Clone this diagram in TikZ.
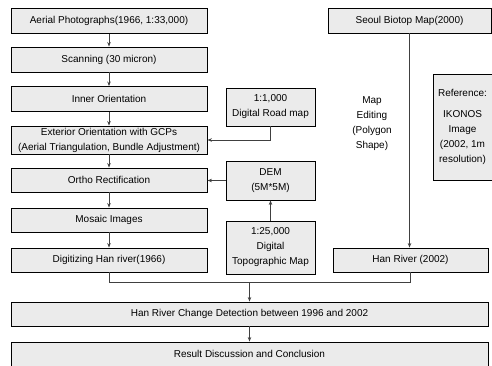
\documentclass[tikz,border=0pt]{standalone}
\usepackage{fontspec}
\setmainfont{Liberation Sans}
\usepackage{tikz}
\usetikzlibrary{shapes, arrows.meta, positioning, fit}

\begin{document}
\begin{tikzpicture}[
    x=1pt, y=-1pt,
    every node/.style={font=\fontsize{10}{15}\selectfont},
    stepbox/.style={
        rectangle,
        minimum width=196pt,    minimum height=25pt,
        inner sep=1pt,
        align=center,
        draw=black,
        line width=0.9pt,
        fill=black!8
    },
    sourcebox/.style={
        stepbox,
        minimum width=89pt
    },
    widebox/.style={
        stepbox,
        minimum width=477pt,    minimum height=24pt
    },
    mainarrow/.style={line width=0.8pt, draw=black!75, ->, >={Stealth[length=4.5pt,width=3.5pt]}},
    plainline/.style={line width=0.8pt, draw=black!75}
]

\useasboundingbox (0,0) rectangle (492,366);

\node[stepbox] (aerial) at (109, 21) {Aerial Photographs(1966, 1:33,000)};
\node[stepbox] (scan) at (109, 59.5) {Scanning (30 micron)};
\node[stepbox] (inner) at (109, 99) {Inner Orientation};
\node[stepbox, minimum height=28pt] (exterior) at (109, 140)
    {Exterior Orientation with GCPs\\(Aerial Triangulation, Bundle Adjustment)};
\node[stepbox, minimum height=24pt] (ortho) at (109, 180) {Ortho Rectification};
\node[stepbox, minimum height=24pt] (mosaic) at (109, 220) {Mosaic Images};
\node[stepbox, minimum height=24pt] (digit) at (109, 260) {Digitizing Han river(1966)};

\draw[mainarrow] (aerial.south) -- (scan.north);
\draw[mainarrow] (scan.south) -- (inner.north);
\draw[mainarrow] (inner.south) -- (exterior.north);
\draw[mainarrow] (exterior.south) -- (ortho.north);
\draw[mainarrow] (ortho.south) -- (mosaic.north);
\draw[mainarrow] (mosaic.south) -- (digit.north);

\node[sourcebox, minimum height=38pt] (road) at (270.5, 107) {1:1,000\\Digital Road map};
\node[sourcebox, minimum height=39pt] (dem) at (270.5, 180.5) {DEM\\(5M*5M)};
\node[sourcebox, minimum height=53pt] (topo) at (270.5, 247.5) {1:25,000\\Digital\\Topographic Map};

\draw[mainarrow] (road.south) |- (exterior.east);
\draw[mainarrow] (dem.west) -- (dem.west -| ortho.east);
\draw[mainarrow] (topo.north) -- (dem.south);

\node[stepbox, minimum width=163pt] (biotop) at (409.5, 20.5) {Seoul Biotop Map(2000)};
\node[stepbox, minimum width=155pt, minimum height=24pt] (hanriver) at (410.5, 260) {Han River (2002)};
\node[align=center] (mapedit) at (372, 124) {Map\\Editing\\(Polygon\\Shape)};
\node[stepbox, minimum width=59pt, minimum height=106pt] (reference) at (462.5, 127)
    {Reference:\\[6pt]IKONOS\\Image\\(2002, 1m\\resolution)};

\draw[mainarrow] (biotop.south) -- (biotop.south |- hanriver.north);

\node[widebox] (change) at (249.5, 314) {Han River Change Detection between 1996 and 2002};
\node[widebox] (result) at (249.5, 354) {Result Discussion and Conclusion};

\coordinate (join) at (change.north |- 0,282);
\draw[plainline] (digit.south) -- (digit.south |- join) -| (hanriver.south);
\draw[mainarrow] (join) -- (change.north);
\draw[mainarrow] (change.south) -- (result.north);

\end{tikzpicture}
\end{document}
